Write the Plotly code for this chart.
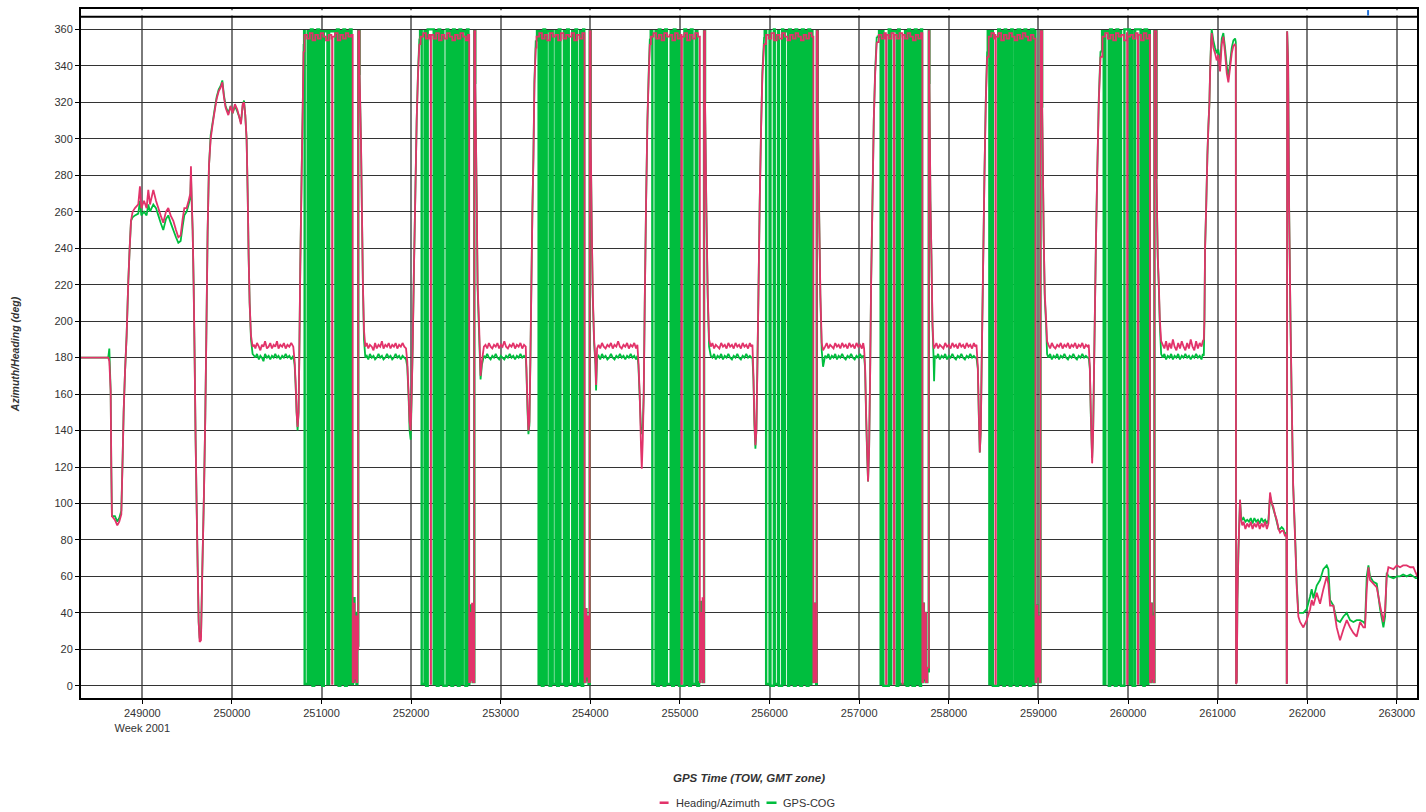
import plotly.graph_objects as go

# ---------------- DATA (GPS time of week [s], heading [deg], COG [deg]) ----------------
# Legs between the north-bound passes: (TOW, heading, COG)
leg_intro = [
    (248316, 180, 180), (248620, 180, 180), (248632, 178, 185), (248647, 162, 162), (248654, 120, 120),
    (248661, 93, 93), (248695, 91, 93), (248721, 88, 90), (248743, 90, 92), (248766, 94, 96),
    (248781, 126, 126), (248792, 150, 150), (248807, 172, 172), (248825, 192, 192), (248844, 222, 222),
    (248859, 240, 240), (248874, 255, 255), (248892, 260, 257), (248918, 262, 258), (248955, 264, 259),
    (248974, 274, 266), (248989, 262, 258), (249019, 266, 260), (249048, 262, 258), (249067, 272, 264),
    (249086, 264, 260), (249123, 272, 264), (249153, 266, 262), (249179, 262, 258), (249205, 258, 254),
    (249234, 254, 250), (249264, 260, 256), (249290, 262, 258), (249316, 258, 254), (249346, 255, 250),
    (249376, 250, 246), (249402, 246, 243), (249428, 247, 244), (249450, 256, 252), (249469, 262, 258),
    (249495, 262, 260), (249517, 266, 264), (249536, 270, 268), (249543, 285, 280), (249551, 268, 266),
    (249562, 250, 250), (249573, 220, 220), (249584, 180, 180), (249595, 135, 135), (249606, 100, 100),
    (249618, 65, 65), (249629, 35, 35), (249640, 24, 26), (249655, 25, 27), (249670, 64, 64),
    (249688, 105, 105), (249703, 148, 148), (249714, 190, 190), (249729, 249, 249), (249744, 285, 285),
    (249763, 300, 302), (249785, 308, 309), (249807, 315, 316), (249830, 322, 323), (249852, 326, 327),
    (249874, 328, 329), (249893, 331, 332), (249911, 323, 324), (249930, 317, 318), (249960, 313, 314),
    (249986, 318, 318), (250008, 314, 314), (250034, 319, 318), (250060, 316, 315), (250082, 312, 312),
    (250101, 308, 309), (250120, 319, 318), (250135, 320, 321), (250149, 313, 313), (250164, 300, 300),
    (250176, 270, 270), (250187, 235, 235), (250198, 210, 210), (250213, 192, 190), (250231, 186, 182),
    (250248, 187, 181), (250262, 185, 180), (250280, 188, 182), (250301, 186, 179), (250318, 184, 181),
    (250335, 187, 180), (250352, 186, 178), (250370, 189, 182), (250391, 185, 180), (250410, 186, 181),
    (250428, 188, 179), (250447, 185, 181), (250466, 187, 180), (250484, 186, 182), (250503, 189, 180),
    (250520, 185, 181), (250540, 187, 179), (250561, 186, 181), (250580, 188, 180), (250600, 185, 182),
    (250620, 187, 180), (250641, 186, 181), (250662, 188, 179), (250685, 186, 181),
    (250700, 178, 176), (250711, 166, 165), (250722, 150, 150), (250733, 142, 140), (250744, 150, 150),
    (250752, 180, 180), (250763, 230, 230), (250778, 280, 280), (250793, 325, 325), (250800, 348, 352),
]
leg_1 = [
    (251425, 335, 335), (251440, 300, 300), (251451, 260, 260), (251462, 220, 220), (251474, 195, 190),
    (251489, 186, 180), (251505, 188, 181), (251522, 185, 179), (251540, 187, 182), (251561, 186, 180),
    (251580, 184, 181), (251598, 188, 179), (251617, 185, 180), (251636, 187, 182), (251655, 186, 180),
    (251674, 189, 181), (251692, 185, 179), (251712, 187, 180), (251731, 186, 182), (251750, 188, 180),
    (251770, 185, 181), (251789, 187, 179), (251808, 186, 180), (251827, 188, 182), (251846, 185, 180),
    (251866, 187, 181), (251885, 186, 179), (251904, 188, 181), (251924, 186, 180), (251943, 185, 179),
    (251957, 178, 175), (251972, 160, 158), (251983, 145, 140), (251995, 140, 135),
    (252006, 160, 158), (252017, 185, 185), (252032, 230, 230), (252047, 270, 270), (252062, 310, 310),
    (252077, 335, 337), (252092, 352, 355),
]
leg_2 = [
    (252716, 330, 330), (252731, 270, 270), (252742, 220, 218), (252757, 200, 195), (252775, 170, 168),
    (252790, 178, 176), (252812, 186, 181), (252830, 187, 180), (252849, 185, 182), (252868, 188, 180),
    (252887, 186, 179), (252906, 185, 181), (252925, 187, 180), (252944, 186, 182), (252963, 188, 180),
    (252982, 185, 179), (253001, 187, 181), (253020, 186, 180), (253040, 189, 179), (253060, 186, 181),
    (253080, 185, 180), (253100, 187, 182), (253120, 186, 180), (253140, 188, 181), (253160, 185, 179),
    (253180, 187, 181), (253200, 186, 180), (253220, 188, 182), (253240, 185, 180), (253260, 187, 181),
    (253279, 186, 180), (253286, 175, 174), (253298, 155, 152),
    (253309, 140, 138), (253320, 145, 143), (253331, 180, 178), (253342, 220, 220), (253353, 260, 260),
    (253365, 290, 292), (253376, 330, 332), (253391, 350, 354),
]
leg_3 = [
    (254004, 300, 300), (254016, 250, 250), (254027, 215, 213), (254042, 190, 188), (254057, 178, 176),
    (254064, 165, 162), (254075, 185, 180), (254092, 187, 181), (254110, 185, 179), (254130, 188, 182),
    (254150, 186, 180), (254170, 185, 181), (254190, 187, 179), (254210, 186, 180), (254230, 188, 182),
    (254250, 185, 180), (254270, 187, 179), (254290, 186, 181), (254310, 189, 180), (254330, 186, 182),
    (254350, 185, 180), (254370, 187, 181), (254390, 186, 179), (254410, 188, 181), (254430, 185, 180),
    (254450, 187, 182), (254470, 186, 180), (254490, 188, 181), (254510, 185, 179), (254525, 187, 181),
    (254536, 178, 176), (254551, 160, 158), (254566, 130, 140),
    (254574, 119, 138), (254585, 135, 142), (254596, 160, 160), (254607, 210, 210), (254622, 265, 265),
    (254637, 310, 310), (254652, 335, 338), (254664, 352, 355),
]
leg_4 = [
    (255280, 320, 320), (255295, 260, 260), (255310, 215, 213), (255325, 190, 186), (255344, 186, 181),
    (255362, 188, 180), (255381, 185, 182), (255400, 187, 179), (255420, 186, 181), (255440, 185, 180),
    (255460, 188, 182), (255480, 186, 179), (255500, 187, 181), (255520, 185, 180), (255540, 188, 182),
    (255560, 186, 180), (255580, 187, 179), (255600, 185, 181), (255620, 188, 180), (255640, 186, 182),
    (255660, 187, 180), (255680, 185, 179), (255700, 188, 181), (255720, 186, 180), (255740, 187, 182),
    (255760, 185, 180), (255780, 188, 181), (255795, 186, 180), (255809, 187, 180),
    (255820, 170, 168), (255831, 145, 143), (255842, 132, 130), (255853, 140, 140),
    (255864, 175, 175), (255876, 215, 215), (255890, 265, 265), (255905, 305, 305), (255920, 335, 337),
    (255939, 352, 356),
]
leg_5 = [
    (256538, 320, 320), (256553, 260, 260), (256567, 215, 213), (256582, 188, 184), (256597, 184, 175),
    (256620, 186, 181), (256638, 188, 180), (256657, 185, 182), (256676, 187, 179), (256695, 186, 181),
    (256714, 185, 180), (256733, 188, 182), (256752, 186, 179), (256771, 187, 181), (256790, 185, 180),
    (256810, 188, 182), (256830, 186, 180), (256850, 187, 179), (256870, 185, 181), (256890, 188, 180),
    (256910, 186, 182), (256930, 187, 180), (256950, 185, 179), (256970, 188, 181), (256990, 186, 180),
    (257010, 187, 182), (257030, 185, 180), (257045, 188, 181), (257055, 185, 181),
    (257066, 175, 174), (257077, 150, 148), (257088, 130, 128), (257099, 112, 112),
    (257111, 130, 130), (257122, 170, 170), (257133, 220, 220), (257148, 265, 265), (257163, 310, 310),
    (257178, 335, 337), (257196, 353, 356),
]
leg_6 = [
    (257784, 330, 330), (257795, 266, 266), (257806, 237, 237), (257818, 199, 197), (257829, 187, 182),
    (257836, 185, 167), (257844, 186, 181), (257862, 188, 180), (257881, 185, 182), (257900, 187, 179),
    (257920, 186, 181), (257940, 185, 180), (257960, 188, 182), (257980, 186, 179), (258000, 187, 181),
    (258020, 185, 180), (258040, 188, 182), (258060, 186, 180), (258080, 187, 179), (258100, 185, 181),
    (258120, 188, 180), (258140, 186, 182), (258160, 187, 180), (258180, 185, 179), (258200, 188, 181),
    (258220, 186, 180), (258240, 187, 182), (258260, 185, 180), (258280, 188, 181), (258295, 186, 180),
    (258309, 187, 180), (258324, 175, 174), (258335, 150, 148),
    (258346, 128, 128), (258357, 140, 140), (258368, 180, 180), (258383, 230, 230), (258398, 280, 280),
    (258413, 320, 322), (258428, 345, 348),
]
leg_7 = [
    (259042, 317, 317), (259060, 244, 244), (259071, 215, 213), (259086, 201, 198), (259097, 189, 182),
    (259112, 187, 180), (259131, 185, 182), (259150, 188, 179), (259170, 186, 181), (259190, 185, 180),
    (259210, 187, 182), (259230, 186, 179), (259250, 188, 181), (259270, 185, 180), (259290, 187, 182),
    (259310, 186, 180), (259330, 188, 179), (259350, 185, 181), (259370, 187, 180), (259390, 186, 182),
    (259410, 188, 180), (259430, 185, 179), (259450, 187, 181), (259470, 186, 180), (259490, 188, 182),
    (259510, 185, 180), (259530, 187, 181), (259548, 186, 180), (259562, 187, 180),
    (259574, 175, 174), (259585, 150, 148), (259600, 122, 125), (259611, 140, 140),
    (259626, 190, 190), (259641, 240, 240), (259656, 280, 280), (259674, 320, 322), (259693, 345, 348),
]
leg_outro = [
    (260318, 278, 278), (260332, 235, 235), (260344, 220, 218), (260355, 201, 198), (260370, 189, 182),
    (260388, 187, 180), (260406, 185, 182), (260425, 189, 179), (260444, 184, 181), (260463, 188, 180),
    (260482, 185, 182), (260501, 190, 179), (260520, 186, 181), (260540, 184, 180), (260560, 188, 182),
    (260580, 185, 179), (260600, 189, 181), (260620, 186, 180), (260640, 184, 182), (260660, 188, 180),
    (260680, 185, 181), (260700, 190, 179), (260720, 186, 181), (260740, 184, 180), (260760, 189, 182),
    (260780, 185, 180), (260800, 188, 181), (260820, 186, 179), (260835, 189, 182),
    (260846, 190, 181), (260853, 201, 201), (260860, 240, 240), (260872, 262, 262), (260886, 291, 291),
    (260897, 307, 307), (260908, 319, 319), (260916, 336, 337), (260927, 352, 354), (260934, 358, 360),
    (260952, 350, 354), (260971, 347, 350), (260990, 343, 347), (261008, 346, 349), (261027, 337, 341),
    (261046, 352, 355), (261064, 356, 358), (261083, 347, 350), (261102, 336, 340), (261120, 331, 334),
    (261139, 339, 342), (261158, 347, 350), (261176, 351, 354), (261195, 352, 355), (261203, 350, 353),
    (261206, 1, 1), (261214, 2, 3), (261221, 47, 47), (261232, 74, 74), (261250, 102, 102), (261262, 91, 93),
    (261275, 88, 91), (261290, 90, 92), (261310, 86, 90), (261330, 89, 91), (261350, 87, 90),
    (261370, 90, 92), (261390, 86, 89), (261410, 89, 92), (261430, 87, 90), (261450, 90, 91),
    (261470, 86, 89), (261490, 89, 92), (261510, 87, 90), (261530, 90, 91), (261550, 86, 89),
    (261567, 89, 91), (261585, 106, 104), (261605, 100, 100), (261622, 98, 97), (261640, 94, 94),
    (261660, 91, 90), (261680, 86, 86), (261697, 84, 86), (261715, 85, 87), (261734, 85, 86),
    (261753, 82, 83), (261768, 83, 84), (261771, 1, 1), (261774, 2, 2), (261776, 359, 359),
    (261787, 341, 342), (261798, 261, 262),
    (261813, 201, 201), (261828, 153, 153), (261843, 110, 110), (261868, 76, 78), (261883, 54, 56),
    (261901, 38, 40), (261920, 35, 40), (261957, 32, 40), (261994, 36, 42), (262032, 42, 49),
    (262050, 47, 53), (262069, 44, 48), (262106, 51, 55), (262143, 45, 58), (262180, 53, 64),
    (262218, 60, 66), (262236, 56, 64), (262255, 44, 47), (262292, 44, 44), (262329, 32, 36),
    (262366, 25, 35), (262404, 31, 38), (262441, 36, 40), (262478, 32, 36), (262515, 29, 35),
    (262552, 27, 36), (262590, 35, 36), (262627, 32, 35), (262645, 32, 34), (262664, 53, 60),
    (262683, 65, 66), (262701, 58, 60), (262738, 56, 57), (262776, 54, 56), (262813, 44, 42),
    (262850, 35, 32), (262869, 42, 38), (262887, 60, 62), (262906, 65, 60), (262962, 64, 59),
    (263000, 66, 60), (263036, 65, 60), (263070, 66, 61), (263110, 66, 60), (263150, 65, 61),
    (263185, 65, 60), (263210, 62, 59), (263230, 60, 59),
]

# North-bound passes (heading wraps 0/360): heading samples (TOW, deg)
pass_1_hdg = [(250810, 357), (250840, 355), (250870, 358), (250900, 354), (250930, 357), (250960, 355),
              (250990, 358), (251020, 356), (251050, 354), (251080, 357), (251110, 355), (251118, 1),
              (251122, 356), (251150, 358), (251180, 354), (251210, 357), (251240, 355), (251270, 358),
              (251300, 356), (251330, 357), (251348, 2), (251360, 45), (251368, 4), (251378, 38),
              (251390, 2), (251400, 20), (251410, 359)]
pass_2_hdg = [(252105, 356), (252135, 358), (252165, 355), (252195, 357), (252216, 354), (252218, 1),
              (252222, 357), (252250, 355), (252280, 358), (252310, 354), (252340, 357), (252370, 355),
              (252400, 358), (252430, 356), (252460, 354), (252490, 357), (252520, 355), (252550, 358),
              (252580, 356), (252610, 354), (252635, 357), (252648, 2), (252660, 40), (252670, 3),
              (252680, 45), (252692, 2), (252705, 359)]
pass_3_hdg = [(253400, 356), (253430, 358), (253460, 355), (253490, 357), (253520, 354), (253550, 358),
              (253580, 356), (253610, 357), (253640, 354), (253670, 358), (253700, 355), (253730, 357),
              (253760, 356), (253790, 358), (253820, 354), (253850, 357), (253880, 355), (253910, 358),
              (253935, 2), (253945, 42), (253955, 5), (253965, 38), (253980, 2), (253993, 359)]
pass_4_hdg = [(254675, 356), (254705, 358), (254735, 355), (254765, 357), (254795, 354), (254825, 358),
              (254855, 356), (254885, 357), (254915, 354), (254945, 358), (254975, 355), (255005, 357),
              (255018, 1), (255022, 356), (255050, 358), (255080, 354), (255110, 357), (255140, 355),
              (255170, 358), (255200, 356), (255222, 2), (255232, 40), (255242, 4), (255252, 48),
              (255260, 2), (255269, 359)]
pass_5_hdg = [(255961, 357), (255990, 355), (256020, 358), (256050, 354), (256080, 357), (256110, 355),
              (256140, 358), (256170, 356), (256200, 354), (256230, 357), (256260, 355), (256290, 358),
              (256320, 356), (256350, 354), (256380, 357), (256410, 355), (256440, 358), (256470, 356),
              (256489, 2), (256498, 45), (256506, 4), (256514, 35), (256520, 2), (256527, 359)]
pass_6_hdg = [(257219, 357), (257250, 355), (257280, 358), (257298, 356), (257300, 1), (257304, 357),
              (257330, 355), (257360, 358), (257386, 356), (257388, 1), (257392, 357), (257420, 355),
              (257450, 358), (257480, 356), (257482, 1), (257486, 357), (257510, 355), (257540, 358),
              (257570, 356), (257600, 354), (257630, 357), (257660, 355), (257690, 358), (257705, 2),
              (257714, 45), (257722, 4), (257729, 40), (257745, 2), (257760, 10), (257777, 359)]
pass_7_hdg = [(258446, 356), (258475, 358), (258505, 355), (258519, 357), (258521, 1), (258525, 356),
              (258555, 358), (258585, 354), (258615, 357), (258645, 355), (258675, 358), (258705, 356),
              (258735, 354), (258765, 357), (258795, 355), (258825, 358), (258855, 356), (258885, 354),
              (258915, 357), (258945, 355), (258967, 2), (258980, 44), (258990, 5), (259000, 38),
              (259012, 2), (259023, 359)]
pass_8_hdg = [(259715, 356), (259745, 358), (259775, 355), (259805, 357), (259835, 354), (259865, 358),
              (259895, 356), (259925, 357), (259955, 354), (259988, 358), (259990, 1), (259994, 356),
              (260025, 357), (260055, 355), (260085, 358), (260108, 356), (260110, 1), (260114, 357),
              (260145, 354), (260175, 358), (260205, 355), (260235, 357), (260245, 2), (260255, 45),
              (260265, 4), (260275, 38), (260284, 2), (260295, 359)]

# North-bound passes: GPS course-over-ground samples (TOW, deg), flipping between ~0 and ~360
pass_1_cog = [(250806, 359), (250812, 1), (250846, 359), (250864, 1), (250882, 360), (250900, 0),
              (250918, 359), (250936, 1), (250954, 360), (250972, 1), (250990, 359), (251008, 0),
              (251026, 359), (251066, 1), (251085, 359), (251155, 1), (251173, 360), (251191, 0),
              (251209, 359), (251227, 1), (251245, 360), (251263, 0), (251281, 359), (251299, 1),
              (251317, 360), (251335, 1), (251350, 2), (251360, 48), (251368, 3), (251378, 40),
              (251390, 1), (251400, 22), (251410, 359)]
pass_2_cog = [(252100, 359), (252118, 1), (252150, 359), (252168, 0), (252185, 360), (252252, 1),
              (252270, 359), (252288, 0), (252306, 360), (252324, 1), (252342, 359), (252360, 0),
              (252396, 360), (252414, 1), (252432, 359), (252450, 0), (252468, 360), (252486, 1),
              (252504, 359), (252522, 0), (252540, 360), (252558, 1), (252576, 359), (252606, 0),
              (252624, 360), (252640, 1), (252649, 2), (252660, 44), (252670, 5), (252680, 30),
              (252692, 2), (252705, 359)]
pass_3_cog = [(253405, 359), (253423, 1), (253441, 359), (253459, 0), (253477, 360), (253495, 1),
              (253513, 359), (253545, 0), (253563, 359), (253580, 1), (253612, 359), (253630, 0),
              (253648, 360), (253666, 1), (253705, 359), (253723, 0), (253741, 360), (253759, 1),
              (253798, 359), (253816, 0), (253834, 360), (253852, 1), (253886, 359), (253904, 0),
              (253920, 360), (253932, 2), (253945, 42), (253955, 3), (253965, 35), (253980, 1),
              (253993, 359)]
pass_4_cog = [(254674, 359), (254692, 1), (254728, 359), (254746, 0), (254764, 360), (254782, 1),
              (254800, 359), (254818, 0), (254836, 360), (254854, 1), (254896, 359), (254914, 0),
              (254932, 360), (254950, 1), (254968, 359), (254990, 0), (255050, 360), (255068, 1),
              (255086, 359), (255104, 0), (255122, 360), (255140, 1), (255176, 359), (255194, 0),
              (255213, 2), (255225, 46), (255235, 4), (255245, 36), (255258, 2), (255269, 359)]
pass_5_cog = [(255946, 359), (255962, 1), (256000, 359), (256010, 0), (256048, 360), (256058, 1),
              (256094, 359), (256104, 0), (256140, 360), (256152, 1), (256170, 359), (256206, 0),
              (256218, 360), (256236, 1), (256254, 359), (256272, 0), (256290, 360), (256308, 1),
              (256326, 359), (256344, 0), (256362, 360), (256380, 1), (256398, 359), (256416, 0),
              (256434, 360), (256452, 1), (256466, 359), (256478, 2),
              (256490, 45), (256500, 3), (256510, 40), (256520, 1), (256527, 359)]
pass_6_cog = [(257222, 359), (257240, 1), (257258, 359), (257270, 0), (257330, 360), (257348, 1),
              (257358, 359), (257418, 0), (257436, 360), (257452, 1), (257512, 359), (257530, 0),
              (257548, 360), (257566, 1), (257584, 359), (257596, 0), (257622, 360), (257640, 1),
              (257652, 359), (257678, 0), (257690, 360), (257702, 2), (257714, 45), (257722, 3),
              (257729, 40), (257745, 2), (257760, 8), (257777, 359)]
pass_7_cog = [(258435, 359), (258453, 1), (258471, 359), (258492, 0), (258552, 360), (258570, 1),
              (258585, 359), (258610, 0), (258625, 360), (258640, 1), (258666, 359), (258680, 0),
              (258698, 360), (258712, 1), (258740, 359), (258755, 0), (258770, 360), (258795, 1),
              (258810, 359), (258828, 0), (258846, 360), (258864, 1), (258882, 359), (258900, 0),
              (258918, 360), (258945, 1), (258955, 359), (258967, 2), (258980, 44), (258990, 4),
              (259000, 38), (259012, 2), (259023, 359)]
pass_8_cog = [(259711, 359), (259729, 1), (259747, 359), (259785, 0), (259800, 360), (259818, 1),
              (259836, 359), (259854, 0), (259872, 360), (259890, 1), (259908, 359), (259922, 0),
              (259960, 360), (260020, 1), (260038, 359), (260052, 0), (260080, 360), (260140, 1),
              (260156, 359), (260172, 0), (260186, 360), (260212, 1), (260226, 359), (260243, 2),
              (260255, 45), (260265, 3), (260275, 40), (260284, 2), (260295, 359)]

x_tick_vals = [249000, 250000, 251000, 252000, 253000, 254000, 255000, 256000,
               257000, 258000, 259000, 260000, 261000, 262000, 263000]
x_tick_text = ["249000<br>Week 2001", "250000", "251000", "252000", "253000", "254000", "255000",
               "256000", "257000", "258000", "259000", "260000", "261000", "262000", "263000"]
y_tick_vals = [0, 20, 40, 60, 80, 100, 120, 140, 160, 180, 200, 220, 240, 260, 280, 300, 320, 340, 360]

series_names = ["Heading/Azimuth", "GPS-COG"]
x_title = "GPS Time (TOW, GMT zone)"
y_title = "Azimuth/Heading (deg)"

# ---------------- BUILD SERIES ----------------
legs = [leg_intro, leg_1, leg_2, leg_3, leg_4, leg_5, leg_6, leg_7, leg_outro]
passes_hdg = [pass_1_hdg, pass_2_hdg, pass_3_hdg, pass_4_hdg, pass_5_hdg, pass_6_hdg, pass_7_hdg, pass_8_hdg]
passes_cog = [pass_1_cog, pass_2_cog, pass_3_cog, pass_4_cog, pass_5_cog, pass_6_cog, pass_7_cog, pass_8_cog]


def leg_series(col):
    xs, ys = [], []
    for leg in legs:
        xs += [p[0] for p in leg] + [None]
        ys += [p[col] for p in leg] + [None]
    return xs, ys


def pass_series(passes, col):
    # each pass is joined to the end of the leg before it and the start of the leg after it
    xs, ys = [], []
    for i, ps in enumerate(passes):
        before, after = legs[i][-1], legs[i + 1][0]
        pts = [(before[0], before[col])] + list(ps) + [(after[0], after[col])]
        xs += [p[0] for p in pts] + [None]
        ys += [p[1] for p in pts] + [None]
    return xs, ys


RED = "#E2336A"
GREEN = "#00BE3E"
FONT = "Liberation Sans, Arial, sans-serif"
LW = 1.8

fig = go.Figure()
gx, gy = leg_series(2)
fig.add_trace(go.Scatter(x=gx, y=gy, mode="lines", line=dict(color=GREEN, width=LW, simplify=False),
                         name=series_names[1], hoverinfo="skip", showlegend=False))
gx, gy = pass_series(passes_cog, 2)
fig.add_trace(go.Scatter(x=gx, y=gy, mode="lines",
                         line=dict(color=GREEN, width=2.4, shape="hv", simplify=False),
                         name=series_names[1], hoverinfo="skip", showlegend=False))
rx, ry = leg_series(1)
fig.add_trace(go.Scatter(x=rx, y=ry, mode="lines", line=dict(color=RED, width=LW, simplify=False),
                         name=series_names[0], hoverinfo="skip", showlegend=False))
rx, ry = pass_series(passes_hdg, 1)
fig.add_trace(go.Scatter(x=rx, y=ry, mode="lines",
                         line=dict(color=RED, width=LW, shape="hv", simplify=False),
                         name=series_names[0], hoverinfo="skip", showlegend=False))

X0, X1 = 248316, 263225
Y0, Y1 = -6.7, 371.2

fig.update_layout(
    width=1426, height=812,
    margin=dict(l=81, r=8, t=7, b=114, pad=0),
    paper_bgcolor="white", plot_bgcolor="white",
    font=dict(family=FONT, size=11, color="#333333"),
    showlegend=False,
    hovermode=False,
    xaxis=dict(range=[X0, X1], tickvals=x_tick_vals, ticktext=x_tick_text,
               showgrid=True, gridcolor="#7a7a7a", gridwidth=2,
               showline=True, linecolor="black", linewidth=2, mirror=True,
               ticks="outside", ticklen=4, tickcolor="black", tickwidth=1,
               tickfont=dict(family=FONT, size=11, color="#333333"), zeroline=False),
    yaxis=dict(range=[Y0, Y1], tickvals=y_tick_vals,
               showgrid=True, gridcolor="#333333", gridwidth=1.3,
               showline=True, linecolor="black", linewidth=2, mirror=True,
               ticks="outside", ticklen=4, tickcolor="black", tickwidth=1,
               tickfont=dict(family=FONT, size=11, color="#333333"), zeroline=False),
)

# top navigator strip with marker
fig.add_shape(type="rect", xref="x", yref="y", x0=X0 + 25, x1=X1 - 25, y0=367.6, y1=370.5,
              fillcolor="white", line=dict(width=0), layer="above")
fig.add_shape(type="line", xref="x", yref="y", x0=X0, x1=X1, y0=366.9, y1=366.9,
              line=dict(color="black", width=2), layer="above")
fig.add_shape(type="rect", xref="x", yref="y", x0=262668, x1=262690, y0=367.6, y1=370.6,
              fillcolor="#1E6FD9", line=dict(width=0), layer="above")

# axis titles
fig.add_annotation(text="<b><i>" + x_title + "</i></b>", xref="paper", yref="paper",
                   x=0.5, y=-0.1158, xanchor="center", yanchor="middle", showarrow=False,
                   font=dict(family=FONT, size=11.5, color="#333333"))
fig.add_annotation(text="<b><i>" + y_title + "</i></b>", xref="paper", yref="paper",
                   x=-0.0494, y=0.499, xanchor="center", yanchor="middle", showarrow=False,
                   textangle=-90, font=dict(family=FONT, size=10.5, color="#333333"))

# legend (drawn manually for short symbols)
leg_y = -0.152
fig.add_shape(type="line", xref="paper", yref="paper", x0=0.4331, x1=0.4398, y0=leg_y, y1=leg_y,
              line=dict(color=RED, width=2.5))
fig.add_annotation(text=series_names[0], xref="paper", yref="paper", x=0.4435, y=leg_y,
                   xanchor="left", yanchor="middle", showarrow=False,
                   font=dict(family=FONT, size=11, color="#333333"))
fig.add_shape(type="line", xref="paper", yref="paper", x0=0.5131, x1=0.5206, y0=leg_y, y1=leg_y,
              line=dict(color=GREEN, width=2.5))
fig.add_annotation(text=series_names[1], xref="paper", yref="paper", x=0.5236, y=leg_y,
                   xanchor="left", yanchor="middle", showarrow=False,
                   font=dict(family=FONT, size=11, color="#333333"))

fig.write_html("out.html", config={"displayModeBar": False},
               post_script="document.body.style.margin='0';document.body.style.overflow='hidden';")
